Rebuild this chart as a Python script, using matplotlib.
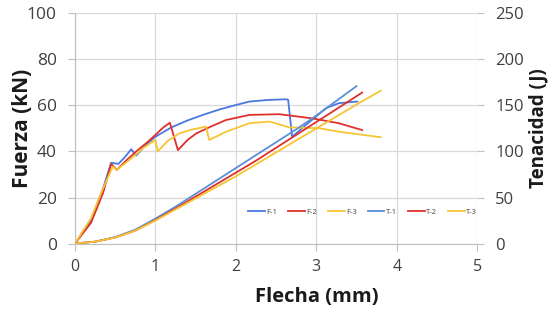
import matplotlib
matplotlib.use("Agg")
import matplotlib.pyplot as plt

plt.rcParams['font.family'] = ['Open Sans', 'DejaVu Sans']

# Fuerza (kN) vs Flecha (mm)
f1_x = [0, 0.2, 0.35, 0.45, 0.54, 0.62, 0.70, 0.76, 0.9, 1.0, 1.2, 1.4, 1.59, 1.8, 2.0, 2.17, 2.4, 2.62, 2.65, 2.70, 2.87, 3.12, 3.28, 3.51]
f1_y = [0, 10, 24, 35.1, 34.6, 37.5, 41, 38.2, 43.5, 46.4, 50.5, 53.5, 55.9, 58.3, 60.2, 61.7, 62.4, 62.7, 62.5, 46.4, 51.5, 58.8, 61, 61.7]

f2_x = [0, 0.2, 0.35, 0.45, 0.52, 0.65, 0.76, 0.9, 1.0, 1.1, 1.18, 1.28, 1.4, 1.51, 1.7, 1.88, 2.17, 2.54, 2.95, 3.28, 3.57]
f2_y = [0, 9, 22, 34.6, 32, 36.5, 40, 44, 47.2, 50.5, 52.5, 40.6, 45, 47.9, 51, 53.7, 55.9, 56.2, 54.4, 52.3, 49.3]

f3_x = [0, 0.2, 0.35, 0.47, 0.52, 0.7, 0.85, 1.0, 1.03, 1.15, 1.30, 1.45, 1.63, 1.67, 1.88, 2.17, 2.42, 2.66, 3.04, 3.28, 3.80]
f3_y = [0, 11, 24, 33.4, 32, 37, 41.5, 45, 40, 44.5, 47.9, 49.5, 50.8, 45, 48.6, 52.3, 53, 50.5, 50.1, 48.6, 46.2]

# Tenacidad (J) vs Flecha (mm)
t1_x = [0, 0.25, 0.5, 0.75, 1.0, 1.25, 1.5, 1.75, 2.0, 2.25, 2.5, 2.75, 3.0, 3.25, 3.5]
t1_y = [0, 2, 7, 15, 27, 40, 54, 68, 82, 96, 110, 124, 139, 155, 171]

t2_x = [0, 0.25, 0.5, 0.75, 1.0, 1.25, 1.5, 1.75, 2.0, 2.25, 2.5, 2.75, 3.0, 3.25, 3.57]
t2_y = [0, 2, 6.5, 14, 25.5, 38, 51, 64, 77, 90, 104, 118, 132, 146, 164]

t3_x = [0, 0.25, 0.5, 0.75, 1.0, 1.25, 1.5, 1.75, 2.0, 2.25, 2.5, 2.75, 3.0, 3.25, 3.5, 3.8]
t3_y = [0, 2, 6.5, 14, 25, 37, 49, 61, 73, 86, 99, 112, 125, 138, 151, 166]

blue = '#4a78e0'
red = '#e0302c'
yellow = '#f5c533'
lblue = '#5b8fd8'
grid_c = '#d9d9d9'
txt_c = '#404040'

fig = plt.figure(figsize=(5.51, 3.20), dpi=100)
ax = fig.add_axes([0.136, 0.239, 0.730, 0.719])
ax2 = ax.twinx()

l1, = ax.plot(f1_x, f1_y, color=blue, lw=1.3, label='F-1')
l2, = ax.plot(f2_x, f2_y, color=red, lw=1.3, label='F-2')
l3, = ax.plot(f3_x, f3_y, color=yellow, lw=1.3, label='F-3')
l4, = ax2.plot(t1_x, t1_y, color=lblue, lw=1.3, label='T-1')
l5, = ax2.plot(t2_x, t2_y, color=red, lw=1.3, label='T-2')
l6, = ax2.plot(t3_x, t3_y, color=yellow, lw=1.3, label='T-3')

ax.set_xlim(0, 5)
ax.set_ylim(0, 100)
ax2.set_ylim(0, 250)
ax.set_xticks([0, 1, 2, 3, 4, 5])
ax.set_yticks([0, 20, 40, 60, 80, 100])
ax2.set_yticks([0, 50, 100, 150, 200, 250])

ax.grid(True, color=grid_c, lw=0.9)
ax.set_axisbelow(True)
for a in (ax, ax2):
    a.spines['top'].set_visible(False)
    a.spines['right'].set_visible(False)
ax.spines['left'].set_color('#bfbfbf')
ax.spines['bottom'].set_color('#bfbfbf')
ax2.spines['left'].set_visible(False)
ax2.spines['bottom'].set_visible(False)

ax.tick_params(axis='x', colors='#bfbfbf', labelcolor=txt_c, length=5, labelsize=11.5, pad=6)
ax.tick_params(axis='y', colors='#bfbfbf', labelcolor=txt_c, length=5, labelsize=12.5, pad=8)
ax2.tick_params(axis='y', colors='#bfbfbf', labelcolor=txt_c, length=5, labelsize=12, pad=8)

ax.set_xlabel('Flecha (mm)', fontsize=14.5, fontweight='bold', color='#1a1a1a')
ax.xaxis.set_label_coords(0.60, -0.19)
ax.set_ylabel('Fuerza (kN)', fontsize=15, fontweight='bold', color='#1a1a1a')
ax.yaxis.set_label_coords(-0.105, 0.5)
ax2.set_ylabel('Tenacidad (J)', fontsize=13.5, fontweight='bold', color='#1a1a1a')
ax2.yaxis.set_label_coords(1.127, 0.5)

ax2.legend(handles=[l1, l2, l3, l4, l5, l6], loc='center', bbox_to_anchor=(0.715, 0.135),
           ncol=6, frameon=False, fontsize=5.5, handlelength=2.2, handletextpad=0.2,
           columnspacing=1.4, labelcolor=txt_c)

fig.savefig('out.png', dpi=100)
